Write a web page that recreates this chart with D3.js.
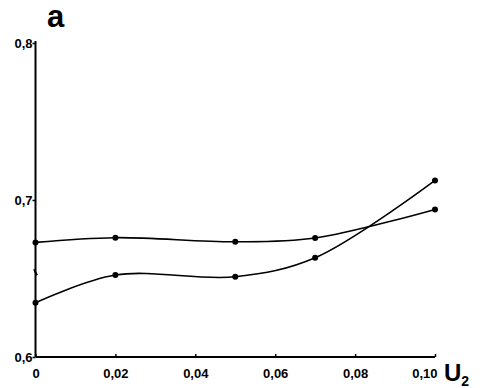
<!DOCTYPE html>
<html><head><meta charset="utf-8">
<script src="https://cdn.jsdelivr.net/npm/d3@7"></script>
<style>body{margin:0;background:#fff}svg{display:block}text{font-family:"Liberation Sans",Arial,sans-serif;fill:#000}</style>
</head><body>
<script>
const xValues = [0, 0.02, 0.05, 0.07, 0.10];
const upperSeries = [0.673, 0.676, 0.6734, 0.6758, 0.694];
const lowerSeries = [0.6346, 0.6522, 0.6511, 0.6632, 0.7125];
const axisMark = [0.654];
const xTicks = [0, 0.02, 0.04, 0.06, 0.08, 0.10];
const xTickLabels = ["0", "0,02", "0,04", "0,06", "0,08", "0,10"];
const yTicks = [0.6, 0.7, 0.8];
const yTickLabels = ["0,6", "0,7", "0,8"];

const W = 488, H = 388;
const svg = d3.select("body").append("svg").attr("width", W).attr("height", H);
const x = d3.scaleLinear().domain([0, 0.10]).range([35.5, 435]);
const y = d3.scaleLinear().domain([0.6, 0.8]).range([357, 43]);

// axes
const xAxis = d3.axisBottom(x).tickValues(xTicks).tickSize(3).tickFormat((d,i)=>xTickLabels[i]);
const gx = svg.append("g").attr("transform", `translate(0,${y(0.6)})`).call(xAxis);
gx.select(".domain").attr("d", `M${x(0)},0H${x(0.10)}`).attr("stroke-width", 2);
gx.selectAll(".tick line").attr("y2", -3).attr("stroke-width", 1.5);
gx.selectAll(".tick text").attr("dy", 0).attr("y", 21).style("font-size", "13px").style("font-weight", "bold");
gx.selectAll(".tick text").filter((d,i)=>i===xTicks.length-1).attr("text-anchor", "end").attr("x", 2);

const yAxis = d3.axisLeft(y).tickValues(yTicks).tickSize(3).tickFormat((d,i)=>yTickLabels[i]);
const gy = svg.append("g").attr("transform", `translate(${x(0)},0)`).call(yAxis);
gy.select(".domain").attr("d", `M0,${y(0.6)}V${y(0.8)-2}`).attr("stroke-width", 2);
gy.selectAll(".tick line").attr("stroke-width", 1.5);
gy.selectAll(".tick text").attr("x", -3).attr("dy", "0.32em").style("font-size", "13px").style("font-weight", "bold");
svg.selectAll(".domain").attr("stroke", "#000");

// small mark on axis
svg.selectAll(".amark").data(axisMark).enter().append("line")
  .attr("x1", x(0)-1.5).attr("x2", x(0)+1.5)
  .attr("y1", d=>y(d)-3).attr("y2", d=>y(d)+3)
  .attr("stroke", "#000").attr("stroke-width", 2);

const line = d3.line().x((d,i)=>x(xValues[i])).y(d=>y(d)).curve(d3.curveCatmullRom.alpha(0.5));
[upperSeries, lowerSeries].forEach(s => {
  svg.append("path").datum(s).attr("d", line).attr("fill", "none").attr("stroke", "#000").attr("stroke-width", 1.6);
  svg.append("g").selectAll("circle").data(s).enter().append("circle")
    .attr("cx", (d,i)=>x(xValues[i])).attr("cy", d=>y(d)).attr("r", 3).attr("fill", "#000");
});

svg.append("text").attr("x", 47).attr("y", 27).style("font-size", "31px").style("font-weight", "bold").text("a");
const u = svg.append("text").attr("x", 444).attr("y", 381).style("font-size", "24px").style("font-weight", "bold");
u.append("tspan").text("U");
u.append("tspan").attr("dy", 5).style("font-size", "14px").text("2");
</script>
</body></html>
